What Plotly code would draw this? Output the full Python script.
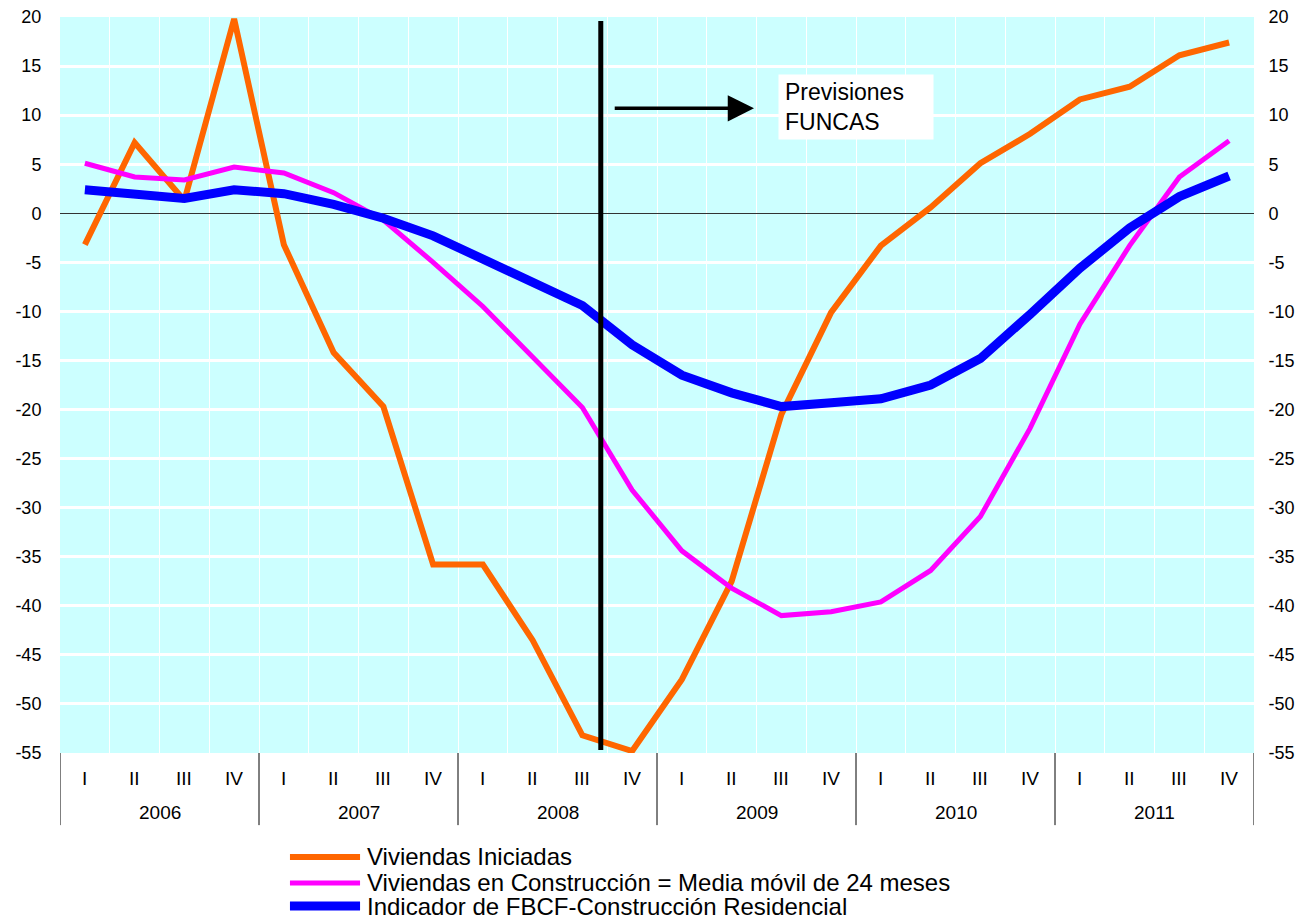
import plotly.graph_objects as go

# quarters 2006 I .. 2011 IV
years = ['2006', '2007', '2008', '2009', '2010', '2011']
quarters = ['I', 'II', 'III', 'IV']

iniciadas = [-3.2, 7.2, 1.3, 19.8, -3.2, -14.2, -19.7, -35.8,
             -35.8, -43.5, -53.2, -54.8, -47.5, -37.5, -20.5, -10.1,
             -3.3, 0.6, 5.1, 8.1, 11.6, 12.9, 16.1, 17.4]
en_construccion = [5.1, 3.7, 3.4, 4.7, 4.1, 2.1, -0.7, -5.0,
                   -9.5, -14.6, -19.8, -28.2, -34.4, -38.2, -41.0, -40.6,
                   -39.6, -36.4, -30.9, -21.9, -11.3, -3.3, 3.7, 7.4]
fbcf = [2.4, 1.9, 1.5, 2.4, 2.0, 0.9, -0.5, -2.3,
        -4.6, -7.0, -9.4, -13.4, -16.5, -18.3, -19.7, -19.3,
        -18.9, -17.5, -14.8, -10.3, -5.6, -1.5, 1.7, 3.8]

y_ticks = list(range(-55, 21, 5))
y_ticktext = [str(v) for v in y_ticks]  # plain hyphen, as in the original

forecast_start = 10.37  # between 2008 III and IV
font_family = 'Liberation Sans, Arial, sans-serif'

series = [
    ('Viviendas Iniciadas', iniciadas, '#FF6600', 6),
    ('Viviendas en Construcción = Media móvil de 24 meses', en_construccion, '#FF00FF', 5),
    ('Indicador de FBCF-Construcción Residencial', fbcf, '#0000FF', 9),
]

x = list(range(len(iniciadas)))

fig = go.Figure()

for name, values, color, width in series:
    fig.add_trace(go.Scatter(
        x=x, y=values, mode='lines', name=name,
        line=dict(color=color, width=width), showlegend=False
    ))

# forecast divider
fig.add_trace(go.Scatter(
    x=[forecast_start, forecast_start], y=[19.6, -54.7], mode='lines',
    line=dict(color='black', width=5), showlegend=False, hoverinfo='skip'
))

# dummy trace so the right axis is drawn
fig.add_trace(go.Scatter(
    x=[0], y=[0], yaxis='y2', mode='markers', marker=dict(opacity=0),
    showlegend=False, hoverinfo='skip'
))

fig.add_annotation(
    x=13.45, y=10.7, ax=10.62, ay=10.7, xref='x', yref='y', axref='x', ayref='y',
    showarrow=True, arrowhead=2, arrowsize=1.5, arrowwidth=3.5, arrowcolor='black', text=''
)
fig.add_annotation(
    x=15.49, y=10.84, xref='x', yref='y', text='Previsiones<br>FUNCAS',
    showarrow=False, align='left', bgcolor='white', borderpad=6,
    width=142, height=52,
    font=dict(size=23, color='black', family=font_family)
)

# category axis labels
for i, q in enumerate(quarters * len(years)):
    fig.add_annotation(x=i, y=-0.0353, xref='x', yref='paper', text=q,
                       showarrow=False, yanchor='middle',
                       font=dict(size=19, color='black', family=font_family))
for k, yr in enumerate(years):
    fig.add_annotation(x=4 * k + 1.5, y=-0.0815, xref='x', yref='paper', text=yr,
                       showarrow=False, yanchor='middle',
                       font=dict(size=19, color='black', family=font_family))
for k in range(len(years) + 1):
    fig.add_shape(type='line', x0=4 * k - 0.5, x1=4 * k - 0.5, y0=0, y1=-0.098,
                  xref='x', yref='paper', line=dict(color='black', width=1))

# legend below the chart
legend_y = [-0.1413, -0.1766, -0.2079]
for (name, values, color, width), ly in zip(series, legend_y):
    fig.add_shape(type='line', x0=0.1926, x1=0.2513, y0=ly, y1=ly,
                  xref='paper', yref='paper', line=dict(color=color, width=width))
    fig.add_annotation(x=0.2554, y=ly, xref='paper', yref='paper', text=name,
                       showarrow=False, xanchor='left', yanchor='middle',
                       font=dict(size=24, color='black', family=font_family))

# page body adds an 8px offset, so the figure is 8px smaller than the window
fig.update_layout(
    width=1297, height=914,
    margin=dict(l=52, r=51, t=9, b=169),
    plot_bgcolor='#CCFFFF', paper_bgcolor='white',
    font=dict(family=font_family, size=18, color='black'),
    showlegend=False,
    xaxis=dict(
        range=[-0.5, 23.5], tickvals=[k + 0.5 for k in range(23)],
        showticklabels=False, ticks='', showgrid=True, gridcolor='white',
        gridwidth=1, zeroline=False, automargin=False
    ),
    yaxis=dict(
        range=[-55, 20], tickvals=y_ticks, ticktext=y_ticktext,
        showgrid=True, gridcolor='white', gridwidth=3,
        zeroline=True, zerolinecolor='#333333', zerolinewidth=1,
        ticks='outside', ticklen=14, tickcolor='rgba(0,0,0,0)',
        ticklabeloverflow='allow', automargin=False
    ),
    yaxis2=dict(
        range=[-55, 20], tickvals=y_ticks, ticktext=y_ticktext,
        overlaying='y', side='right', showgrid=False, zeroline=False,
        ticks='outside', ticklen=10, tickcolor='rgba(0,0,0,0)',
        ticklabeloverflow='allow', automargin=False
    ),
)

fig.write_html('out.html')
